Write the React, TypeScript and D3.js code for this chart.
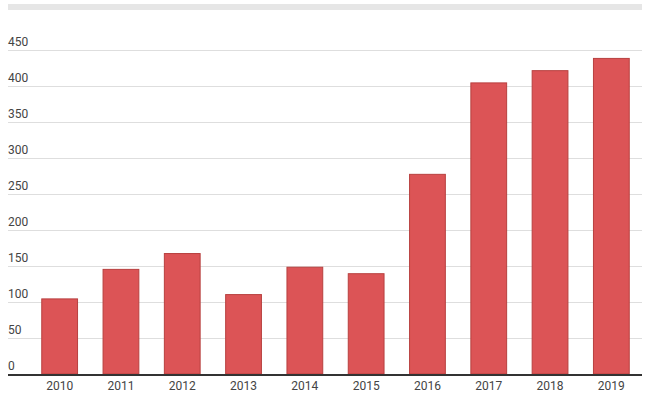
import React, { useEffect, useRef } from 'react';
import * as d3 from 'd3';

const years = ['2010', '2011', '2012', '2013', '2014', '2015', '2016', '2017', '2018', '2019'];
const values = [105, 146, 168, 111, 149, 140, 278, 405, 422, 439];
const yTicks = [0, 50, 100, 150, 200, 250, 300, 350, 400, 450];

const App = () => {
    const svgRef = useRef<SVGSVGElement>(null);

    useEffect(() => {
        const width = 650;
        const height = 398;
        const svg = d3.select(svgRef.current);
        svg.selectAll('*').remove();
        svg.attr('width', width).attr('height', height);

        const left = 8;
        const right = 642;
        const baseline = 374;

        const x = d3.scaleBand<string>()
            .domain(years)
            .range([29, right])
            .paddingInner(0.4)
            .paddingOuter(0.2);

        const y = d3.scaleLinear().domain([0, 450]).range([baseline, 50]);

        // top gray strip
        svg.append('rect')
            .attr('x', left)
            .attr('y', 4)
            .attr('width', right - left)
            .attr('height', 6)
            .attr('fill', '#e6e6e6');

        // grid lines + labels
        const grid = svg.append('g');
        grid.selectAll('line')
            .data(yTicks.filter(t => t > 0))
            .enter()
            .append('line')
            .attr('x1', left)
            .attr('x2', right)
            .attr('y1', d => y(d) + 0.5)
            .attr('y2', d => y(d) + 0.5)
            .attr('stroke', '#dedede')
            .attr('stroke-width', 1);

        grid.selectAll('text')
            .data(yTicks)
            .enter()
            .append('text')
            .attr('x', left)
            .attr('y', d => y(d) - 4)
            .text(d => d)
            .style('font-family', 'Roboto, sans-serif')
            .style('font-size', '12px')
            .style('fill', '#444');

        // bars
        svg.append('g')
            .selectAll('rect')
            .data(values)
            .enter()
            .append('rect')
            .attr('x', (d, i) => x(years[i])! + 0.5)
            .attr('y', d => y(d) + 0.5)
            .attr('width', x.bandwidth() - 1)
            .attr('height', d => baseline - y(d) - 0.5)
            .attr('fill', '#dc5456')
            .attr('stroke', '#b8403f')
            .attr('stroke-width', 1);

        // axis line
        svg.append('line')
            .attr('x1', left)
            .attr('x2', right)
            .attr('y1', baseline + 1)
            .attr('y2', baseline + 1)
            .attr('stroke', '#333')
            .attr('stroke-width', 2);

        // x labels
        svg.append('g')
            .selectAll('text')
            .data(years)
            .enter()
            .append('text')
            .attr('x', d => x(d)! + x.bandwidth() / 2)
            .attr('y', 390)
            .attr('text-anchor', 'middle')
            .text(d => d)
            .style('font-family', 'Roboto, sans-serif')
            .style('font-size', '12px')
            .style('fill', '#444');
    }, []);

    return <svg ref={svgRef} style={{ position: 'absolute', top: 0, left: 0 }}></svg>;
};

export default App;
